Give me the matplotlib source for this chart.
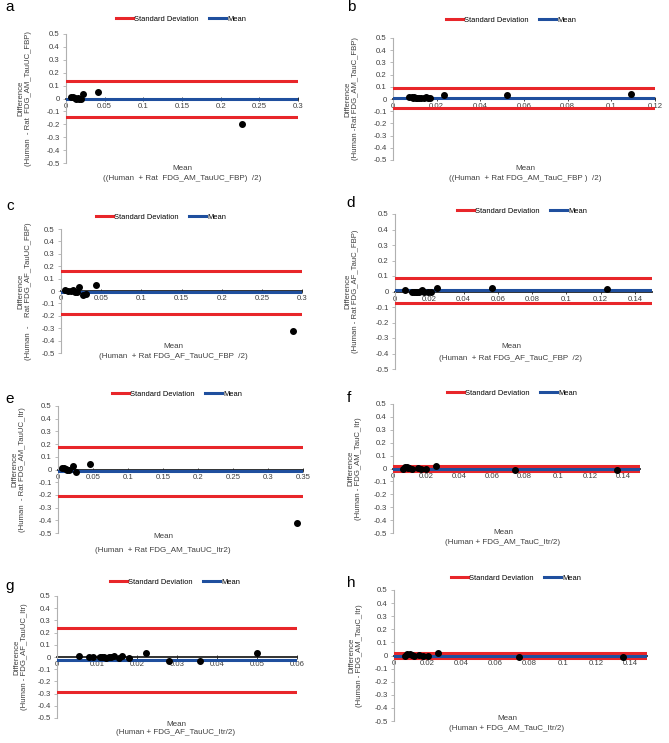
import matplotlib
matplotlib.use("Agg")
from matplotlib import pyplot as plt
from matplotlib.ticker import FuncFormatter, MultipleLocator
from matplotlib.lines import Line2D

W, H = 669, 743
DPI = 100

RED = "#e8262a"
BLUE = "#1f4f9e"
GREY = "#404040"

plt.rcParams["font.family"] = ["Liberation Sans", "DejaVu Sans"]

# ---- data ----
# a: FDG_AM_TauUC_FBP
a_mean_x = [0.007, 0.009, 0.011, 0.013, 0.015, 0.017, 0.019, 0.022, 0.041, 0.227]
a_diff = [0.012, 0.008, 0.005, 0.0, 0.002, -0.005, 0.0, 0.032, 0.05, -0.195]
a_bias, a_sd_hi, a_sd_lo = -0.005, 0.135, -0.145

# b: FDG_AM_TauC_FBP
b_mean_x = [0.0075, 0.0085, 0.009, 0.0095, 0.0105, 0.011, 0.012, 0.013, 0.014,
            0.015, 0.016, 0.017, 0.0235, 0.052, 0.109]
b_diff = [0.015, 0.02, 0.01, 0.015, 0.01, 0.005, 0.01, 0.005, 0.01,
          0.015, 0.01, 0.01, 0.03, 0.03, 0.04]
b_bias, b_sd_hi, b_sd_lo = 0.01, 0.09, -0.07

# c: FDG_AF_TauUC_FBP
c_mean_x = [0.005, 0.009, 0.0125, 0.015, 0.018, 0.02, 0.022, 0.028, 0.031, 0.043, 0.289]
c_diff = [0.01, 0.0, 0.0, 0.01, -0.01, -0.01, 0.03, -0.03, -0.025, 0.045, -0.32]
c_bias, c_sd_hi, c_sd_lo = -0.012, 0.16, -0.185

# d: FDG_AF_TauC_FBP
d_mean_x = [0.0057, 0.01, 0.011, 0.012, 0.013, 0.014, 0.015, 0.016, 0.017,
            0.019, 0.021, 0.0246, 0.0564, 0.124]
d_diff = [0.012, 0.0, 0.0, 0.0, -0.002, 0.0, 0.005, 0.012, 0.0,
          0.0, -0.005, 0.025, 0.022, 0.015]
d_bias, d_sd_hi, d_sd_lo = 0.009, 0.085, -0.075

# e: FDG_AM_TauUC_Itr
e_mean_x = [0.0057, 0.008, 0.011, 0.013, 0.016, 0.021, 0.026, 0.046, 0.341]
e_diff = [0.01, 0.01, 0.005, 0.0, 0.0, 0.03, -0.02, 0.04, -0.425]
e_bias, e_sd_hi, e_sd_lo = -0.01, 0.18, -0.21

# f: FDG_AM_TauC_Itr
f_mean_x = [0.006, 0.007, 0.0085, 0.009, 0.01, 0.0115, 0.015, 0.017, 0.02, 0.026, 0.074, 0.136]
f_diff = [0.0, 0.01, 0.015, 0.005, 0.005, 0.0, 0.005, 0.0, -0.005, 0.02, -0.015, -0.015]
f_bias, f_sd_hi, f_sd_lo = 0.0, 0.02, -0.02

# g: FDG_AF_TauUC_Itr
g_mean_x = [0.0055, 0.008, 0.009, 0.0107, 0.0113, 0.0118, 0.0123, 0.0129, 0.0136,
            0.0143, 0.0156, 0.0163, 0.0179, 0.0223, 0.028, 0.0358, 0.05]
g_diff = [0.01, 0.0, 0.0, 0.0, 0.0, 0.0, -0.005, 0.0, 0.0,
          0.01, -0.01, 0.01, -0.01, 0.03, -0.03, -0.035, 0.035]
g_bias, g_sd_hi, g_sd_lo = -0.027, 0.24, -0.29

# h: FDG_AM_TauC_Itr
h_mean_x = [0.0065, 0.0075, 0.0095, 0.0105, 0.012, 0.015, 0.017, 0.02, 0.026, 0.074, 0.136]
h_diff = [0.0, 0.01, 0.015, 0.005, 0.0, 0.005, 0.0, -0.005, 0.02, -0.015, -0.015]
h_bias, h_sd_hi, h_sd_lo = 0.0, 0.02, -0.02

y_ticks = [-0.5, -0.4, -0.3, -0.2, -0.1, 0, 0.1, 0.2, 0.3, 0.4, 0.5]

panels = [
    dict(tag="a", x=a_mean_x, y=a_diff, bias=a_bias, hi=a_sd_hi, lo=a_sd_lo,
         xmax=0.3, xstep=0.05, box=(66, 298, 34, 163),
         ylab="Difference\n(Human  - Rat  FDG_AM_TauUC_FBP)", ylab_x=25,
         xlab="((Human  + Rat  FDG_AM_TauUC_FBP)  /2)", xlab_pos=(182, 168, 178),
         leg=(181, 19), tag_pos=(9.5, 7)),
    dict(tag="b", x=b_mean_x, y=b_diff, bias=b_bias, hi=b_sd_hi, lo=b_sd_lo,
         xmax=0.12, xstep=0.02, box=(393, 655, 38, 160),
         ylab="Difference\n(Human -Rat FDG_AM_TauC_FBP)", ylab_x=352,
         xlab="((Human  + Rat FDG_AM_TauC_FBP )  /2)", xlab_pos=(525, 168, 179),
         leg=(511, 20), tag_pos=(351, 7)),
    dict(tag="c", x=c_mean_x, y=c_diff, bias=c_bias, hi=c_sd_hi, lo=c_sd_lo,
         xmax=0.3, xstep=0.05, box=(61, 302, 229, 353),
         ylab="Difference\n(Human  -    Rat FDG_AF_TauUC_FBP)", ylab_x=25,
         xlab="(Human  + Rat FDG_AF_TauUC_FBP  /2)", xlab_pos=(173, 346, 356),
         leg=(161, 217), tag_pos=(10, 206)),
    dict(tag="d", x=d_mean_x, y=d_diff, bias=d_bias, hi=d_sd_hi, lo=d_sd_lo,
         xmax=0.15, xstep=0.02, box=(395, 652, 214, 369),
         ylab="Difference\n(Human - Rat FDG_AF_TauC_FBP)", ylab_x=352,
         xlab="(Human  + Rat FDG_AF_TauC_FBP  /2)", xlab_pos=(511, 347, 358),
         leg=(522, 211), tag_pos=(351, 203)),
    dict(tag="e", x=e_mean_x, y=e_diff, bias=e_bias, hi=e_sd_hi, lo=e_sd_lo,
         xmax=0.35, xstep=0.05, box=(58, 303, 406, 533),
         ylab="Difference\n(Human  - Rat FDG_AM_TauUC_Itr)", ylab_x=19,
         xlab="(Human  + Rat FDG_AM_TauUC_Itr2)", xlab_pos=(163, 537, 550),
         leg=(177, 394), tag_pos=(10, 399)),
    dict(tag="f", x=f_mean_x, y=f_diff, bias=f_bias, hi=f_sd_hi, lo=f_sd_lo,
         xmax=0.15, xstep=0.02, box=(393, 640, 404, 533),
         ylab="Difference\n(Human - FDG_AM_TauC_Itr)", ylab_x=355,
         xlab="(Human + FDG_AM_TauC_Itr/2)", xlab_pos=(503, 532, 542),
         leg=(512, 393), tag_pos=(349, 398)),
    dict(tag="g", x=g_mean_x, y=g_diff, bias=g_bias, hi=g_sd_hi, lo=g_sd_lo,
         xmax=0.06, xstep=0.01, box=(57, 297, 596, 718),
         ylab="Difference\n(Human - FDG_AF_TauUC_Itr)", ylab_x=21,
         xlab="(Human + FDG_AF_TauUC_Itr/2)", xlab_pos=(176, 724, 733),
         leg=(175, 582), tag_pos=(10, 586)),
    dict(tag="h", x=h_mean_x, y=h_diff, bias=h_bias, hi=h_sd_hi, lo=h_sd_lo,
         xmax=0.15, xstep=0.02, box=(394, 647, 590, 721),
         ylab="Difference\n(Human - FDG_AM_TauC_Itr)", ylab_x=356,
         xlab="(Human + FDG_AM_TauC_Itr/2)", xlab_pos=(507, 719, 729),
         leg=(516, 578), tag_pos=(351, 583)),
]


def fmt(v, pos):
    v = round(v, 4)
    if v == 0:
        return "0"
    return f"{v:g}"


def fx(px):
    return px / W


def fy(py):
    return 1 - py / H


def draw_panel(fig, p):
    left, right, top, bottom = p["box"]
    ax = fig.add_axes([fx(left), fy(bottom), fx(right) - fx(left), fy(top) - fy(bottom)])
    ax.set_xlim(0, p["xmax"])
    ax.set_ylim(-0.5, 0.5)

    ax.axhline(p["hi"], color=RED, lw=2.2, zorder=3)
    ax.axhline(p["lo"], color=RED, lw=2.2, zorder=3)
    ax.axhline(p["bias"], color=BLUE, lw=2.2, zorder=3)
    ax.scatter(p["x"], p["y"], s=16, color="black", zorder=5, clip_on=False)

    for s in ("top", "right"):
        ax.spines[s].set_visible(False)
    ax.spines["left"].set_color("#b0b0b0")
    ax.spines["left"].set_linewidth(0.8)
    ax.spines["bottom"].set_position(("data", 0))
    ax.spines["bottom"].set_color("#222222")
    ax.spines["bottom"].set_linewidth(1.3)
    ax.spines["bottom"].set_zorder(2)

    ax.set_yticks(y_ticks)
    ax.xaxis.set_major_locator(MultipleLocator(p["xstep"]))
    ax.xaxis.set_major_formatter(FuncFormatter(fmt))
    ax.yaxis.set_major_formatter(FuncFormatter(fmt))
    ax.tick_params(axis="y", labelsize=5.6, colors="#b0b0b0", labelcolor=GREY,
                   length=2.5, width=0.6, pad=2)
    ax.tick_params(axis="x", labelsize=5.6, colors="#222222", labelcolor=GREY,
                   direction="inout", length=3, width=0.6, pad=1.5)
    ax.set_facecolor("none")

    handles = [Line2D([], [], color=RED, lw=2.2), Line2D([], [], color=BLUE, lw=2.2)]
    lx, ly = p["leg"]
    fig.legend(handles, ["Standard Deviation", "Mean"], loc="center",
               bbox_to_anchor=(fx(lx), fy(ly)), ncol=2, frameon=False,
               fontsize=5.4, handlelength=2.2, handletextpad=0.2,
               columnspacing=1.4, borderpad=0)

    cy = (top + bottom) / 2
    fig.text(fx(p["ylab_x"]), fy(cy), p["ylab"], rotation=90, ha="center",
             va="center", fontsize=5.6, color=GREY, linespacing=1.15,
             multialignment="center")
    xcx, y1, y2 = p["xlab_pos"]
    fig.text(fx(xcx), fy(y1), "Mean", ha="center", va="center", fontsize=5.8, color=GREY)
    fig.text(fx(xcx), fy(y2), p["xlab"], ha="center", va="center", fontsize=5.8, color=GREY)

    tx, ty = p["tag_pos"]
    fig.text(fx(tx), fy(ty), p["tag"], ha="center", va="center", fontsize=11, color="black")
    return ax


fig = plt.figure(figsize=(W / DPI, H / DPI), dpi=DPI)
fig.patch.set_facecolor("white")
for p in panels:
    draw_panel(fig, p)

fig.savefig("out.png", dpi=DPI)
